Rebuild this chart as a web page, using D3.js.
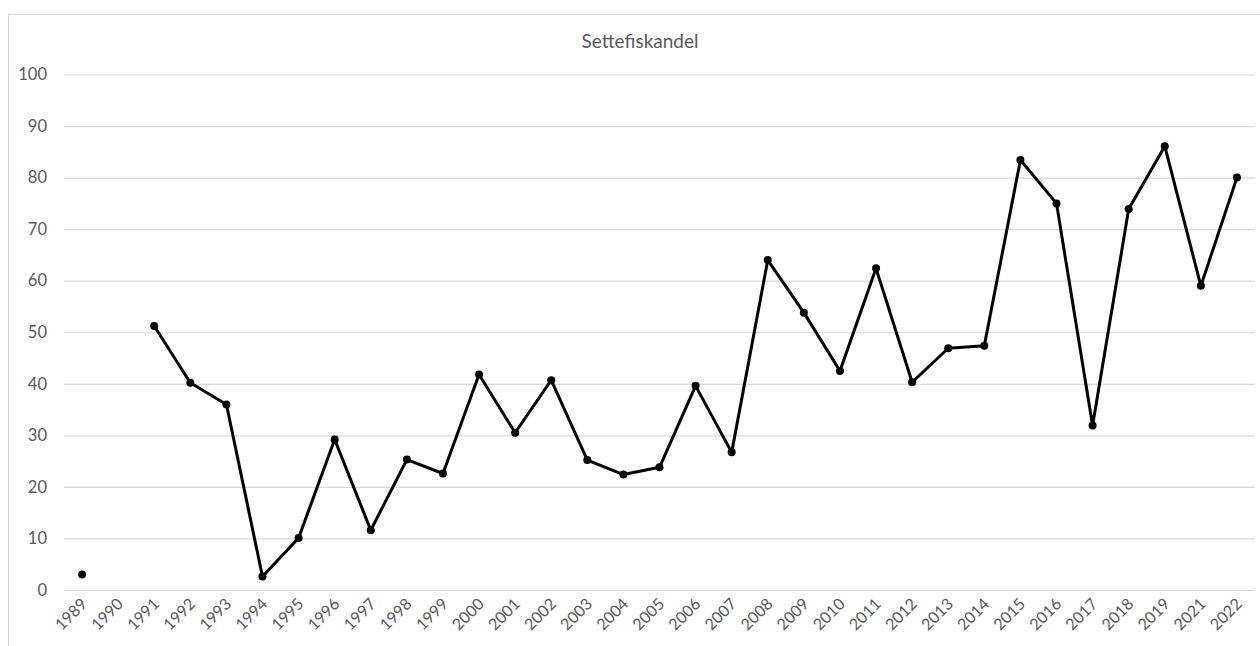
<!DOCTYPE html>
<html>
<head>
<meta charset="utf-8">
<script src="https://cdn.jsdelivr.net/npm/d3@7"></script>
<style>
  body { margin: 0; background: #fff; }
  text { font-family: Lato, "Open Sans", sans-serif; fill: #595959; }
</style>
</head>
<body>
<div id="chart"></div>
<script>
let years = ["1989", "1990", "1991", "1992", "1993", "1994", "1995", "1996", "1997", "1998",
    "1999", "2000", "2001", "2002", "2003", "2004", "2005", "2006", "2007", "2008",
    "2009", "2010", "2011", "2012", "2013", "2014", "2015", "2016", "2017", "2018",
    "2019", "2021", "2022"];
let values = [3.0, null, 51.2, 40.2, 36.0, 2.6, 10.1, 29.2, 11.6, 25.3,
    22.6, 41.8, 30.5, 40.7, 25.2, 22.4, 23.8, 39.6, 26.7, 64.0,
    53.8, 42.5, 62.4, 40.3, 46.9, 47.4, 83.4, 75.0, 31.9, 73.9,
    86.1, 59.0, 80.0];
let yTicks = [0, 10, 20, 30, 40, 50, 60, 70, 80, 90, 100];
let title = "Settefiskandel";

let W = 1260, H = 646;
let margin = {top: 74.5, right: 5, bottom: 56, left: 64};
let width = W - margin.left - margin.right,
    height = H - margin.top - margin.bottom;

let svg = d3.select("#chart")
    .append("svg")
    .attr("width", W)
    .attr("height", H);

// chart area border
svg.append("rect")
    .attr("x", 8.5).attr("y", 14.5)
    .attr("width", 1400).attr("height", 800)
    .attr("fill", "none")
    .attr("stroke", "#d9d9d9");

svg.append("text")
    .attr("x", 640).attr("y", 48)
    .attr("text-anchor", "middle")
    .style("font-size", "19px")
    .text(title);

let g = svg.append("g")
    .attr("transform", "translate(" + margin.left + "," + margin.top + ")");

let x = d3.scaleBand()
    .domain(years)
    .range([0, width]);

let y = d3.scaleLinear()
    .domain([0, 100])
    .range([height, 0]);

let yAxis = d3.axisLeft(y)
    .tickValues(yTicks)
    .tickSize(-width)
    .tickPadding(17);

g.append("g")
    .attr("class", "y axis")
    .call(yAxis)
    .call(function(a) {
        a.select(".domain").remove();
        a.selectAll("line").attr("stroke", "#d9d9d9").attr("stroke-width", 1.2);
        a.selectAll("text").style("font-size", "16.5px").attr("fill", "#595959");
    });

let xAxis = d3.axisBottom(x).tickSize(0).tickPadding(0);

g.append("g")
    .attr("class", "x axis")
    .attr("transform", "translate(0," + height + ")")
    .call(xAxis)
    .call(function(a) {
        a.select(".domain").remove();
        a.selectAll("text")
            .style("font-size", "16px")
            .attr("fill", "#595959")
            .attr("text-anchor", "end")
            .attr("dy", null)
            .attr("transform", "translate(6,15) rotate(-45)");
    });

let points = years.map(function(d, i) { return {year: d, value: values[i]}; });

let line = d3.line()
    .defined(function(d) { return d.value !== null; })
    .x(function(d) { return x(d.year) + x.bandwidth() / 2; })
    .y(function(d) { return y(d.value); });

// gap at 1990 breaks the line
g.append("path")
    .datum(points)
    .attr("fill", "none")
    .attr("stroke", "#000")
    .attr("stroke-width", 3)
    .attr("stroke-linejoin", "round")
    .attr("d", line);

g.selectAll(".dot")
    .data(points.filter(function(d) { return d.value !== null; }))
    .enter().append("circle")
    .attr("class", "dot")
    .attr("cx", function(d) { return x(d.year) + x.bandwidth() / 2; })
    .attr("cy", function(d) { return y(d.value); })
    .attr("r", 4)
    .attr("fill", "#000");
</script>
</body>
</html>
